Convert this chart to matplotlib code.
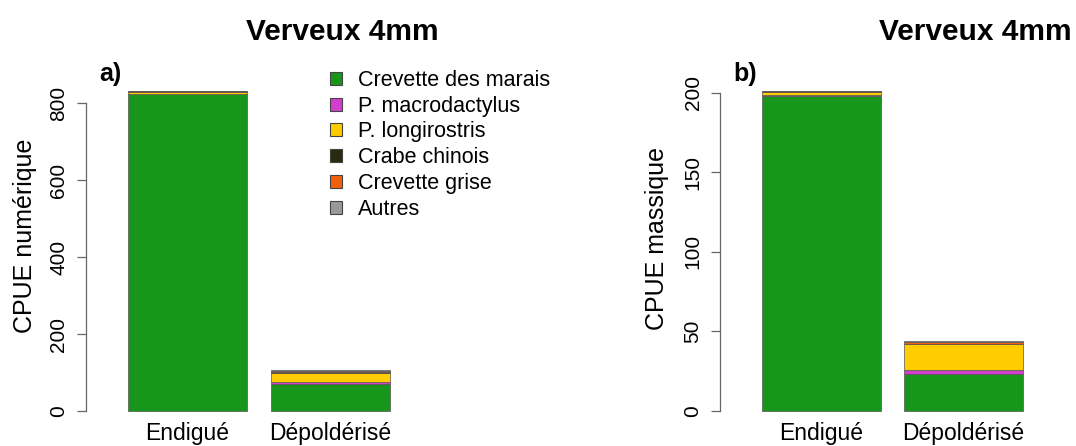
import matplotlib
matplotlib.use('Agg')
import matplotlib.pyplot as plt
from matplotlib.patches import Patch
import numpy as np

plt.rcParams['font.family'] = ['Liberation Sans', 'DejaVu Sans']

# ---------------- data ----------------
sites = ['Endigué', 'Dépoldérisé']
species = ['Crevette des marais', 'P. macrodactylus', 'P. longirostris',
           'Crabe chinois', 'Crevette grise', 'Autres']
colors = ['#18951b', '#d23fcf', '#ffcc00', '#2a2a10', '#f2600c', '#999999']

# CPUE numérique (a)
num_crevette_marais = [825, 69]
num_macrodactylus = [0.5, 6]
num_longirostris = [3, 25]
num_crabe_chinois = [0.5, 1]
num_crevette_grise = [2.5, 4]
num_autres = [0.3, 2]

# CPUE massique (b)
mass_crevette_marais = [198, 23]
mass_macrodactylus = [0.2, 2.5]
mass_longirostris = [2, 16.5]
mass_crabe_chinois = [0.1, 0.3]
mass_crevette_grise = [0.5, 1.2]
mass_autres = [0.1, 0.3]

num_ticks = [0, 200, 400, 600, 800]
mass_ticks = [0, 50, 100, 150, 200]

titles = ['Verveux 4mm', 'Verveux 4mm']
ylabels = ['CPUE numérique', 'CPUE massique']
panel_labels = ['a)', 'b)']

# ---------------- figure ----------------
W, H = 1076, 446
fig = plt.figure(figsize=(W / 100, H / 100), dpi=100)


def fx(px):
    return px / W


def fy(py):
    return 1 - py / H


def draw_panel(ax_rect, series, ticks):
    ax = fig.add_axes(ax_rect)
    x = np.array([0.7, 1.9])
    bottom = np.zeros(len(sites))
    for vals, col in zip(series, colors):
        vals = np.array(vals, dtype=float)
        ax.bar(x, vals, width=1.0, bottom=bottom, color=col,
               edgecolor='#555555', linewidth=0.5)
        bottom += vals
    top = bottom.max()
    pad = 0.04 * top
    ax.set_ylim(-pad, top + pad)
    ax.set_xlim(0.2 - 0.04 * 2.2, 2.4 + 0.04 * 2.2)
    for s in ['top', 'right', 'bottom']:
        ax.spines[s].set_visible(False)
    ax.spines['left'].set_position(('outward', 23))
    ax.spines['left'].set_bounds(ticks[0], ticks[-1])
    ax.spines['left'].set_color('#666666')
    ax.spines['left'].set_linewidth(0.9)
    ax.set_yticks(ticks)
    ax.set_yticklabels([str(t) for t in ticks])
    ax.tick_params(axis='y', length=6.3, width=0.9, color='#666666',
                   pad=6, labelsize=15, labelrotation=90)
    for lab in ax.get_yticklabels():
        lab.set_va('center')
    ax.set_xticks(x)
    ax.set_xticklabels(sites)
    ax.tick_params(axis='x', length=0, pad=-1, labelsize=16.5)
    return ax


ax_h = (423.8 - 78.4) / H
ax1 = draw_panel([fx(117.5), fy(423.8), fx(283), ax_h],
                 [num_crevette_marais, num_macrodactylus, num_longirostris,
                  num_crabe_chinois, num_crevette_grise, num_autres],
                 num_ticks)
ax2 = draw_panel([fx(751.6), fy(423.8), fx(281.8), ax_h],
                 [mass_crevette_marais, mass_macrodactylus, mass_longirostris,
                  mass_crabe_chinois, mass_crevette_grise, mass_autres],
                 mass_ticks)

# titles
fig.text(fx(342), fy(32), titles[0], ha='center', va='center',
         fontsize=21.5, fontweight='bold')
fig.text(fx(975), fy(32), titles[1], ha='center', va='center',
         fontsize=21.5, fontweight='bold')

# panel labels
fig.text(fx(110), fy(74), panel_labels[0], ha='center', va='center',
         fontsize=18, fontweight='bold')
fig.text(fx(745), fy(74), panel_labels[1], ha='center', va='center',
         fontsize=18, fontweight='bold')

# y labels
fig.text(fx(25), fy(236), ylabels[0], rotation=90, ha='center', va='center',
         fontsize=18)
fig.text(fx(657), fy(238), ylabels[1], rotation=90, ha='center', va='center',
         fontsize=18)

# legend
handles = [Patch(facecolor=c, edgecolor='#444444', linewidth=0.8) for c in colors]
fig.legend(handles, species, loc='upper left',
           bbox_to_anchor=(fx(330), fy(70)), bbox_transform=fig.transFigure,
           frameon=False, fontsize=15.5, handlelength=0.55, handleheight=0.55,
           handletextpad=0.75, labelspacing=0.22, borderpad=0, borderaxespad=0)

fig.savefig('out.png', dpi=100)
